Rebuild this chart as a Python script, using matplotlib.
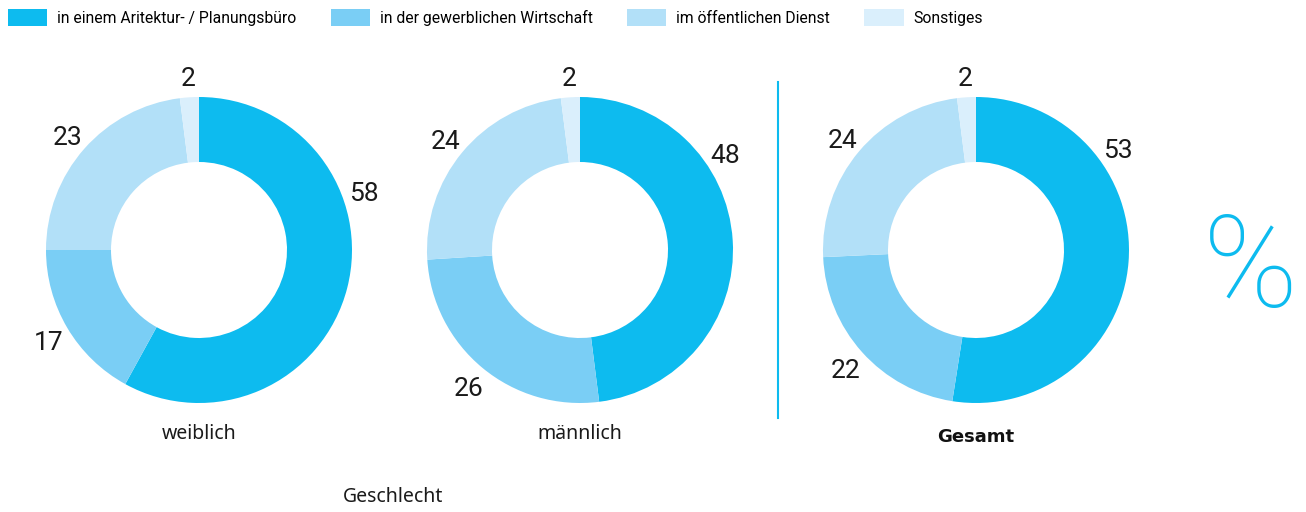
import numpy as np
import matplotlib.pyplot as plt
from matplotlib.patches import Patch

plt.rcParams['font.family'] = ['Roboto', 'DejaVu Sans']

# data
categories = ["in einem Aritektur- / Planungsbüro", "in der gewerblichen Wirtschaft",
              "im öffentlichen Dienst", "Sonstiges"]
groups = ["weiblich", "männlich", "Gesamt"]
weiblich = [58, 17, 23, 2]
maennlich = [48, 26, 24, 2]
gesamt = [53, 22, 24, 2]
colors = ["#0DBBEF", "#7ACEF5", "#B2E0F8", "#DAEFFC"]

W, H = 1306, 512
fig = plt.figure(figsize=(W / 100, H / 100), dpi=100)
ax = fig.add_axes([0, 0, 1, 1])

# layout (pixel coords, y from bottom)
centers = [(199, 262), (580, 262), (976, 262)]
R, ring = 153, 65
label_r = 175
first_label_angle = [20, 34, 36]   # first label is pushed up in the original
label_font = ['Noto Sans', 'DejaVu Sans']

for i, vals in enumerate([weiblich, maennlich, gesamt]):
    cx, cy = centers[i]
    wedges, _ = ax.pie(vals, colors=colors, startangle=90, counterclock=False,
                       center=(cx, cy), radius=R, normalize=True,
                       wedgeprops=dict(width=ring, linewidth=0))
    for j, (w, v) in enumerate(zip(wedges, vals)):
        ang = (w.theta1 + w.theta2) / 2
        if j == 0:
            ang = first_label_angle[i]
        x = cx + label_r * np.cos(np.radians(ang))
        y = cy + label_r * np.sin(np.radians(ang)) - 4
        ax.text(x, y, str(v), ha='center', va='center', fontsize=19,
                fontweight='normal', color='#1a1a1a')
    if groups[i] == "Gesamt":
        ax.text(cx, 75, groups[i], ha='center', va='center', fontsize=13,
                color='#111111', family=['DejaVu Sans'], fontweight='bold')
    else:
        ax.text(cx, 78, groups[i], ha='center', va='center', fontsize=14,
                color='#1a1a1a', family=label_font)

# pie() resets the limits, so set them afterwards
ax.set_xlim(0, W)
ax.set_ylim(0, H)
ax.set_aspect('equal')
ax.axis('off')

ax.text((centers[0][0] + centers[1][0]) / 2 + 4, 15, "Geschlecht", ha='center',
        va='center', fontsize=14, color='#1a1a1a', family=label_font)

# separator line
ax.plot([778, 778], [94, 430], color="#0DBBEF", linewidth=1.5)

# big percent sign
ax.text(1251, 240, "%", ha='center', va='center', fontsize=92,
        fontweight=100, color="#0DBBEF")

handles = [Patch(facecolor=c, edgecolor='none') for c in colors]
fig.legend(handles, categories, loc='upper left', bbox_to_anchor=(8 / W, 1 - 9 / H),
           ncol=4, frameon=False, borderpad=0, borderaxespad=0,
           handlelength=2.5, handleheight=1.25, handletextpad=0.62,
           columnspacing=2.2, fontsize=11.3)

fig.savefig("out.png", dpi=100)
